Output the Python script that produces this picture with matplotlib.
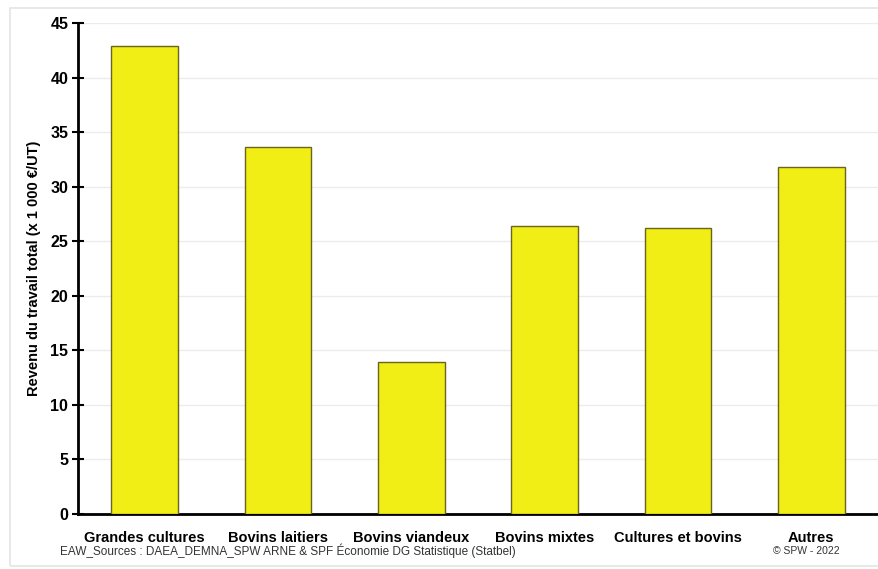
import numpy as np
import matplotlib.pyplot as plt
from matplotlib.patches import Rectangle

plt.rcParams['font.family'] = ['Liberation Sans', 'DejaVu Sans']

categories = ['Grandes cultures', 'Bovins laitiers', 'Bovins viandeux',
              'Bovins mixtes', 'Cultures et bovins', 'Autres']
revenu = [42.9, 33.6, 13.9, 26.4, 26.2, 31.8]
yticks = [0, 5, 10, 15, 20, 25, 30, 35, 40, 45]

fig = plt.figure(figsize=(8.79, 5.69), dpi=100)

# light frame around the chart
fig.add_artist(Rectangle((10/879, 0.005), 1.0, 1 - 8/569 - 0.005,
                         transform=fig.transFigure, fill=False,
                         edgecolor='#e4e4e4', linewidth=1.2))

ax = fig.add_axes([78/879, 1 - 514/569, 800/879, (514 - 23)/569])
x = np.arange(len(categories))
ax.bar(x, revenu, width=0.5, color='#f0ee14', edgecolor='#6b6420',
       linewidth=1.0, zorder=3)

ax.set_xlim(-0.5, 5.5)
ax.set_ylim(0, 45)
ax.set_yticks(yticks)
ax.set_xticks(x)
ax.set_xticklabels(categories, fontsize=10.5, fontweight='bold')
ax.tick_params(axis='x', length=0, pad=12)
ax.tick_params(axis='y', direction='inout', length=8, width=1.5,
               labelsize=11.5, pad=3)
for lab in ax.get_yticklabels():
    lab.set_fontweight('bold')

ax.grid(axis='y', color='#ececec', linewidth=1, zorder=0)
for s in ['top', 'right']:
    ax.spines[s].set_visible(False)
ax.spines['left'].set_linewidth(2)
ax.spines['bottom'].set_linewidth(2)

ax.set_ylabel('Revenu du travail total (x 1 000 €/UT)', fontsize=10.5,
              fontweight='bold', labelpad=7)

fig.text(60/879, 1 - 551/569,
         'EAW_Sources : DAEA_DEMNA_SPW ARNE & SPF Économie DG Statistique (Statbel)',
         fontsize=8.5, color='#333333', va='center',
         family=['Liberation Sans Narrow', 'Liberation Sans', 'DejaVu Sans'])
fig.text(773/879, 1 - 551/569, '© SPW - 2022', fontsize=7.5,
         color='#333333', va='center',
         family=['Liberation Sans Narrow', 'Liberation Sans', 'DejaVu Sans'])

fig.savefig('out.png', dpi=100)
